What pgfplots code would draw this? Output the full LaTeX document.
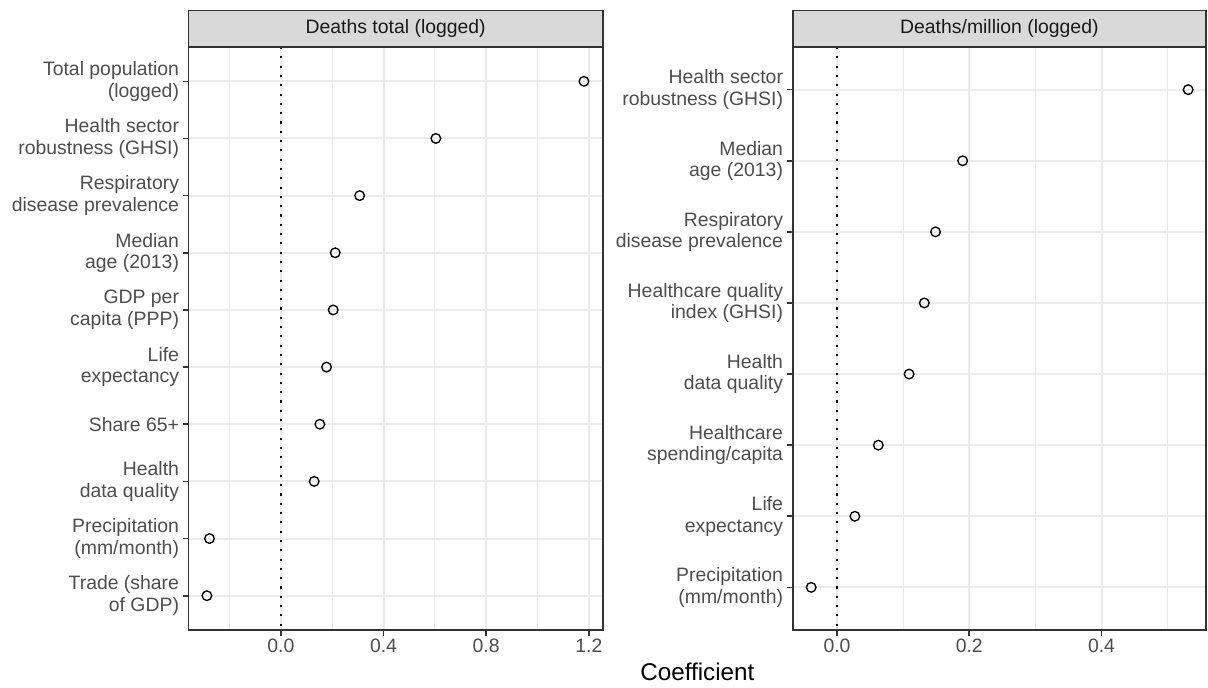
\documentclass[border=0pt]{standalone}
\usepackage{fontspec}
\setmainfont{Liberation Sans}
\usepackage{pgfplots}
\pgfplotsset{compat=1.18}
\definecolor{gray10}{HTML}{1A1A1A}
\definecolor{gray20}{HTML}{333333}
\definecolor{gray30}{HTML}{4D4D4D}
\definecolor{gray85}{HTML}{D9D9D9}
\definecolor{gray92}{HTML}{EBEBEB}
\newcommand{\axfont}{\fontsize{19.4}{21.5}\selectfont}
\pgfplotsset{
  facet/.style={
    scale only axis, height=583pt,
    anchor=south west,
    axis line style={draw=gray20, line width=1.6pt},
    tick align=outside,
    xtick pos=lower, ytick pos=left,
    major tick length=5.5pt, minor tick length=0pt,
    tick style={draw=gray20, line width=1.6pt},
    xmajorgrids, xminorgrids, ymajorgrids,
    major grid style={draw=gray92, line width=2pt},
    minor grid style={draw=gray92, line width=1pt},
    y dir=reverse,
    xticklabel style={font=\axfont, text=gray30, inner sep=0pt, yshift=-3pt},
    yticklabel style={font=\axfont, text=gray30, align=right, inner sep=0pt, xshift=-4pt},
    every axis title/.style={at={(0.5,1)}, anchor=south, draw=gray20, fill=gray85,
      line width=1.6pt, outer sep=0pt, inner sep=0pt, minimum height=36.7pt,
      font=\axfont, text=gray10},
    clip=true,
  },
  pt/.style={only marks, mark=o, mark size=4.8pt, mark options={line width=1.35pt, draw=black}},
  zline/.style={black, line width=2.1pt, dash pattern=on 2.1pt off 7.2pt, forget plot},
}
\pgfplotstableread{
y x
1 1.181
2 0.604
3 0.307
4 0.212
5 0.204
6 0.178
7 0.152
8 0.130
9 -0.278
10 -0.288
}\lefttab
\pgfplotstableread{
y x
1 0.531
2 0.190
3 0.149
4 0.132
5 0.109
6 0.0625
7 0.027
8 -0.039
}\righttab
\begin{document}
\begin{tikzpicture}
\path[use as bounding box] (0,0) rectangle (1208pt,-688pt);
\begin{axis}[facet, at={(188.7pt,-630pt)}, width=414pt,
  title={Deaths total (logged)},
  every axis title/.append style={minimum width=414pt},
  xmin=-0.359, xmax=1.254, ymin=0.4, ymax=10.6,
  xtick={0,0.4,0.8,1.2}, xticklabels={0.0,0.4,0.8,1.2},
  minor xtick={-0.2,0.2,0.6,1.0},
  ytick={1,2,3,4,5,6,7,8,9,10},
  yticklabels={{Total population\\(logged)},{Health sector\\robustness (GHSI)},{Respiratory\\disease prevalence},{Median\\age (2013)},{GDP per\\capita (PPP)},{Life\\expectancy},{Share 65+},{Health\\data quality},{Precipitation\\(mm/month)},{Trade (share\\of GDP)}},
]
\addplot[zline] coordinates {(0,0.4) (0,10.6)};
\addplot[pt] table[x=x, y=y] {\lefttab};
\end{axis}
\begin{axis}[facet, at={(792.7pt,-630pt)}, width=413.3pt,
  title={Deaths/million (logged)},
  every axis title/.append style={minimum width=413.3pt},
  xmin=-0.067, xmax=0.558, ymin=0.4, ymax=8.6,
  xtick={0,0.2,0.4}, xticklabels={0.0,0.2,0.4},
  minor xtick={0.1,0.3,0.5},
  ytick={1,2,3,4,5,6,7,8},
  yticklabels={{Health sector\\robustness (GHSI)},{Median\\age (2013)},{Respiratory\\disease prevalence},{Healthcare quality\\index (GHSI)},{Health\\data quality},{Healthcare\\spending/capita},{Life\\expectancy},{Precipitation\\(mm/month)}},
]
\addplot[zline] coordinates {(0,0.4) (0,8.6)};
\addplot[pt] table[x=x, y=y] {\righttab};
\end{axis}
\node[anchor=base, font=\fontsize{24.2}{28}\selectfont, text=black] at (697.4pt,-680.7pt) {Coefficient};
\end{tikzpicture}
\end{document}
